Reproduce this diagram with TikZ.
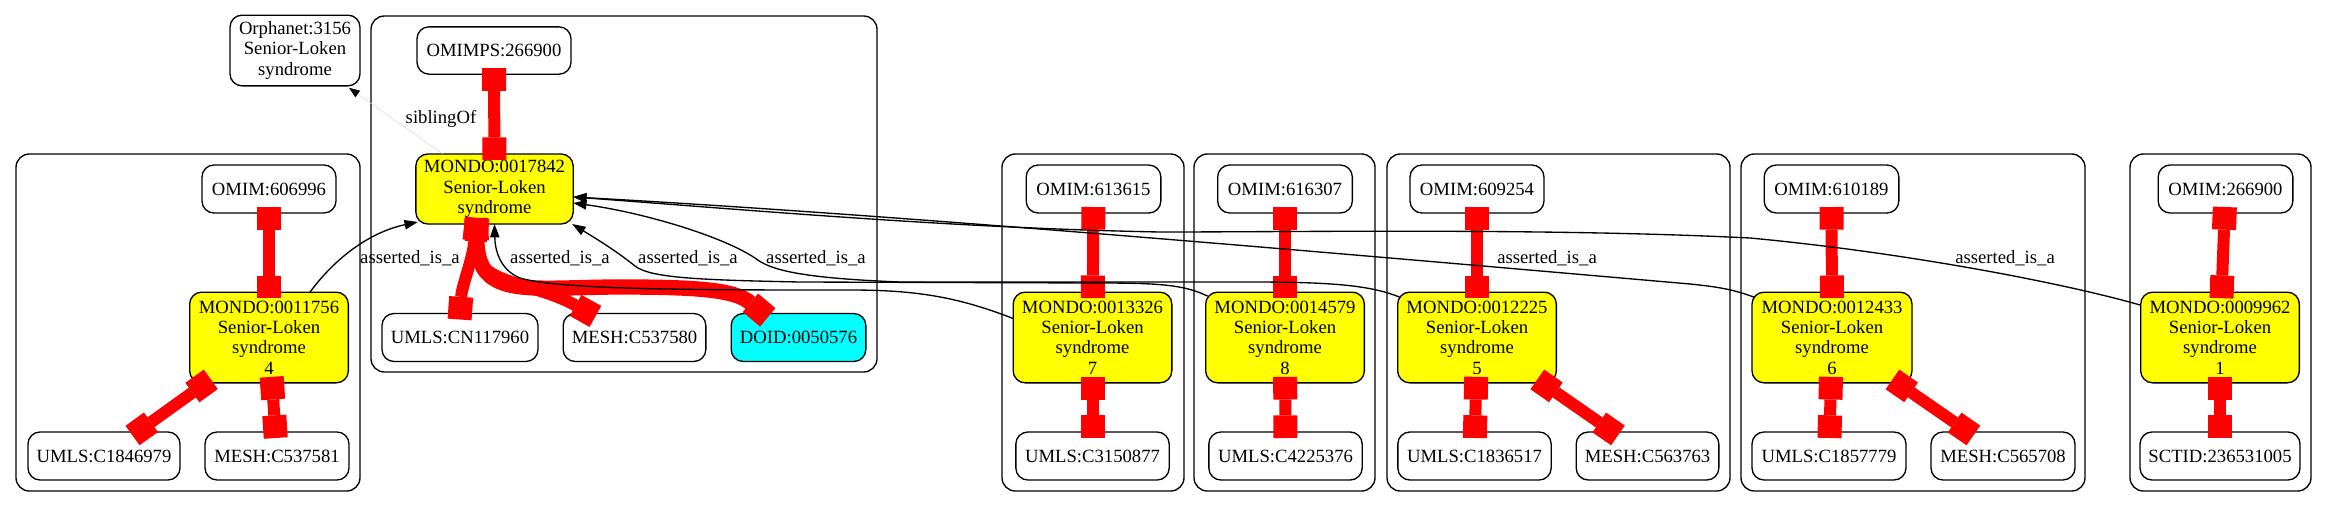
\documentclass[tikz,border=0pt]{standalone}
\usepackage{fontspec}
\setmainfont{Liberation Serif}
\usetikzlibrary{arrows.meta,calc}
\definecolor{gvyellow}{RGB}{255,255,0}
\definecolor{gvcyan}{RGB}{0,255,255}
\definecolor{gvred}{RGB}{255,0,0}
\definecolor{gvgray}{RGB}{215,215,215}
\begin{document}
\begin{tikzpicture}[x=0.75pt,y=-0.75pt,
  font=\fontsize{14pt}{15.2pt}\selectfont,
  every node/.style={inner sep=0pt, outer sep=0pt},
  box/.style={draw, line width=1pt, rounded corners=9pt, align=center, minimum height=36pt},
  mondo/.style={box, fill=gvyellow, minimum height=68pt, minimum width=119pt},
  cluster/.style={draw, line width=1pt, rounded corners=10pt},
  tee/.style={draw=gvred, line width=9pt,
    {Rectangle[length=17pt,width=18pt,line width=0pt]}-{Rectangle[length=17pt,width=18pt,line width=0pt]},
    shorten <=-4.5pt, shorten >=-4.5pt},
  isa/.style={draw, line width=1pt, -{Triangle[length=10pt,width=7pt]}},
  sib/.style={draw=gvgray, line width=0.4pt, -{Triangle[length=8pt,width=6pt,color=black,fill=black]}}]
\useasboundingbox (0,0) rectangle (2327,507);

% clusters
\draw[cluster] (371,16) rectangle (877,372);
\draw[cluster] (16,154) rectangle (360,491);
\draw[cluster] (1002,154) rectangle (1184,491);
\draw[cluster] (1194,154) rectangle (1375,491);
\draw[cluster] (1387,154) rectangle (1730,491);
\draw[cluster] (1741,154) rectangle (2085,491);
\draw[cluster] (2130,154) rectangle (2311,491);

% nodes
\node[box, minimum width=97.5pt, minimum height=53pt] (orph) at (295,50.5) {Orphanet:3156\\Senior-Loken\\syndrome};
\node[box, minimum width=115.5pt, minimum height=35.5pt] (omimps) at (494,50.5) {OMIMPS:266900};
\node[mondo, minimum height=52.5pt, minimum width=118pt] (mA) at (494.5,189) {MONDO:0017842\\Senior-Loken\\syndrome};
\node[box, minimum width=117pt] (ucn) at (460,337.5) {UMLS:CN117960};
\node[box, minimum width=107pt] (mesh580) at (634.5,337.5) {MESH:C537580};
\node[box, fill=gvcyan, minimum width=101pt] (doid) at (798.5,337.5) {DOID:0050576};

\node[box, minimum width=100.5pt] (o606996) at (269,189) {OMIM:606996};
\node[mondo] (m4) at (269,337.5) {MONDO:0011756\\Senior-Loken\\syndrome\\4};
\node[box, minimum width=114pt] (uc1846979) at (104,456) {UMLS:C1846979};
\node[box, minimum width=108pt] (mesh581) at (277,456) {MESH:C537581};

\node[box, minimum width=101pt] (o613615) at (1093.5,189) {OMIM:613615};
\node[mondo] (m7) at (1092.5,337.5) {MONDO:0013326\\Senior-Loken\\syndrome\\7};
\node[box, minimum width=115pt] (u3150877) at (1092.5,456) {UMLS:C3150877};

\node[box, minimum width=101pt] (o616307) at (1285,189) {OMIM:616307};
\node[mondo] (m8) at (1285,337.5) {MONDO:0014579\\Senior-Loken\\syndrome\\8};
\node[box, minimum width=115pt] (u4225376) at (1285.5,456) {UMLS:C4225376};

\node[box, minimum width=100.5pt] (o609254) at (1477,189) {OMIM:609254};
\node[mondo] (m5) at (1477,337.5) {MONDO:0012225\\Senior-Loken\\syndrome\\5};
\node[box, minimum width=115pt] (u1836517) at (1474.5,456) {UMLS:C1836517};
\node[box, minimum width=107pt] (mesh763) at (1647.5,456) {MESH:C563763};

\node[box, minimum width=101pt] (o610189) at (1831.5,189) {OMIM:610189};
\node[mondo, minimum width=120pt] (m6) at (1832,337.5) {MONDO:0012433\\Senior-Loken\\syndrome\\6};
\node[box, minimum width=115.5pt] (u1857779) at (1829,456) {UMLS:C1857779};
\node[box, minimum width=108pt] (mesh708) at (2003,456) {MESH:C565708};

\node[box, minimum width=101pt] (o266900) at (2225.5,189) {OMIM:266900};
\node[mondo] (m1) at (2220,337.5) {MONDO:0009962\\Senior-Loken\\syndrome\\1};
\node[box, minimum width=120pt] (sctid) at (2220,456) {SCTID:236531005};

% red tee edges
\draw[tee] (omimps) -- (mA);
\draw[tee] ($(mA.south)+(-18,0)$) .. controls (472,262) and (462,285) .. (ucn.north);
\draw[tee] ($(mA.south)+(-18,0)$) .. controls (470,285) and (530,280) .. ($(mesh580.north west)+(27,0)$);
\draw[tee, line width=11.5pt] ($(mA.south)+(-18,0)$) .. controls (478,300) and (530,287) .. (620,287) .. controls (700,287) and (735,290) .. ($(doid.north west)+(32,0)$);

\draw[tee] (o606996) -- (m4);
\draw[tee] (m4) -- (uc1846979);
\draw[tee] (m4) -- (mesh581);
\draw[tee] (o613615) -- (m7);
\draw[tee] (m7) -- (u3150877);
\draw[tee] (o616307) -- (m8);
\draw[tee] (m8) -- (u4225376);
\draw[tee] (o609254) -- (m5);
\draw[tee] (m5) -- (u1836517);
\draw[tee] (m5) -- (mesh763);
\draw[tee] (o610189) -- (m6);
\draw[tee] (m6) -- (u1857779);
\draw[tee] (m6) -- (mesh708);
\draw[tee] (o266900) -- (m1);
\draw[tee] (m1) -- (sctid);

% asserted_is_a edges
\draw[isa] ($(m4.north)+(41,0)$) .. controls (335,258) and (370,232) .. ($(mA.south west)+(2,-2)$);
\draw[isa] ($(m7.west)+(0,-19)$) .. controls (960,298) and (920,290) .. (850,290) .. controls (700,290) and (560,290) .. (520,278) .. controls (500,270) and (495,250) .. (mA.south);
\draw[isa] ($(m8.north west)+(2,4)$) .. controls (1185,285) and (1160,283) .. (1100,283) -- (800,282) .. controls (700,280) and (650,278) .. (635,266) .. controls (615,250) and (595,238) .. ($(mA.south east)+(-1,0)$);
\draw[isa] ($(m5.north west)+(2,5)$) .. controls (1370,285) and (1330,282) .. (1250,282) -- (900,282) .. controls (800,278) and (770,270) .. (755,258) .. controls (720,235) and (640,212) .. ($(mA.east)+(0,14)$);
\draw[isa] ($(m6.north west)+(2,5)$) .. controls (1735,290) and (1720,287) .. (1690,284) .. controls (1300,250) and (900,215) .. ($(mA.east)+(0,8)$);
\draw[isa] ($(m1.north west)+(0,13)$) .. controls (2060,282) and (1900,252) .. (1750,238) .. controls (1550,228) and (1300,232) .. (1160,232) .. controls (950,228) and (750,210) .. ($(mA.east)+(0,8)$);

% siblingOf
\draw[sib] ($(mA.north west)+(27,0)$) -- ($(orph.south east)+(-11,2)$);

% labels
\node (lsib) at (441,119) {siblingOf};
\node (l4) at (410,258) {asserted\_is\_a};
\node (l7) at (560,258) {asserted\_is\_a};
\node (l8) at (688,258) {asserted\_is\_a};
\node (l5) at (816,258) {asserted\_is\_a};
\node (l6) at (1547,258) {asserted\_is\_a};
\node (l1) at (2005,258) {asserted\_is\_a};
\end{tikzpicture}
\end{document}
